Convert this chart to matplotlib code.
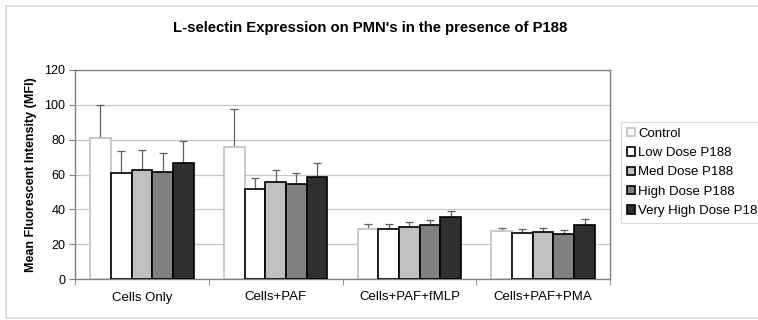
import matplotlib.pyplot as plt
import numpy as np
from matplotlib.patches import Rectangle

plt.rcParams['font.family'] = ['Liberation Sans', 'DejaVu Sans']

categories = ['Cells Only', 'Cells+PAF', 'Cells+PAF+fMLP', 'Cells+PAF+PMA']
series = ['Control', 'Low Dose P188', 'Med Dose P188', 'High Dose P188', 'Very High Dose P188']

# mean values per series (one value per category)
control = [80.8, 75.6, 28.5, 27.6]
low_dose = [61.0, 51.5, 28.5, 26.2]
med_dose = [62.6, 55.5, 29.9, 26.8]
high_dose = [61.2, 54.4, 31.0, 25.6]
very_high_dose = [66.6, 58.4, 35.4, 30.8]

# upper error bar lengths
control_err = [19.1, 21.8, 2.9, 1.5]
low_err = [12.5, 6.3, 2.9, 2.3]
med_err = [11.5, 7.1, 2.6, 2.3]
high_err = [10.9, 6.3, 2.9, 2.3]
very_high_err = [12.6, 8.4, 3.6, 3.6]

values = [control, low_dose, med_dose, high_dose, very_high_dose]
errors = [control_err, low_err, med_err, high_err, very_high_err]
fills = ['white', 'white', '#c0c0c0', '#808080', '#303030']
edges = ['#c0c0c0', 'black', 'black', 'black', 'black']

W, H = 758, 320
fig = plt.figure(figsize=(W/100, H/100), dpi=100)

# outer chart border
fig.patches.append(Rectangle((6/W, 2/H), 1.0, (314-2)/H, transform=fig.transFigure,
                             fill=False, edgecolor='#d9d9d9', lw=1.2))

ax = fig.add_axes([75/W, (H-279)/H, 535/W, 209/H])

x = np.arange(len(categories))
w = 0.155
for j in range(len(series)):
    pos = x + (j-2)*w
    ax.bar(pos, values[j], width=w, color=fills[j], edgecolor=edges[j], lw=1.2,
           label=series[j], zorder=3)
    ax.errorbar(pos, values[j], yerr=[np.zeros(len(categories)), errors[j]], fmt='none',
                ecolor='#606060', elinewidth=0.9, capsize=3, capthick=0.9, zorder=2)

ax.set_xlim(-0.5, 3.5)
ax.set_ylim(0, 120)
ax.set_yticks(range(0, 121, 20))
ax.yaxis.grid(True, color='#c8c8c8', lw=0.9, zorder=0)
ax.set_axisbelow(True)

ax.set_xticks(x)
ax.set_xticklabels(categories, fontsize=9.5)
ax.tick_params(axis='x', length=0, pad=9)
ax.set_xticks(np.arange(-0.5, 4.0, 1.0), minor=True)
ax.tick_params(axis='x', which='minor', length=4, color='#808080')
ax.tick_params(axis='y', labelsize=9, length=4, color='#808080', pad=3)
for s in ax.spines.values():
    s.set_color('#808080')
    s.set_linewidth(1.0)

ax.set_ylabel('Mean Fluorescent Intensity (MFI)', fontsize=9, fontweight='bold', labelpad=5)
fig.text(370/W, 1-28/H, "L-selectin Expression on PMN's in the presence of P188",
         ha='center', va='center', fontsize=10.7, fontweight='bold')

# legend runs past the right edge, as in the source image
leg = ax.legend(loc='upper left', bbox_to_anchor=(621/W, 1-122/H),
                bbox_transform=fig.transFigure, fontsize=9.5, frameon=True, fancybox=False,
                edgecolor='#d0d0d0', handlelength=0.6, handleheight=0.6, handletextpad=0.25,
                labelspacing=0.55, borderpad=0.45, borderaxespad=0)
leg.get_frame().set_linewidth(0.8)

fig.savefig('out.png', dpi=100)
